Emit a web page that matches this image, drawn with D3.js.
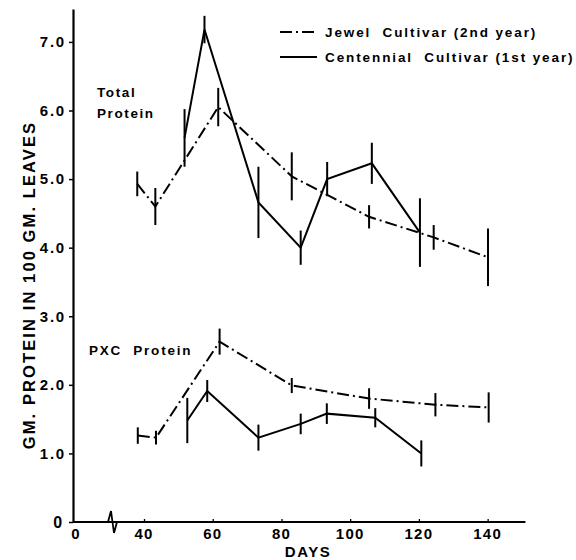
<!DOCTYPE html>
<html><head><meta charset="utf-8">
<script src="https://cdn.jsdelivr.net/npm/d3@7"></script>
<style>
body{margin:0;background:#fff;}
text{font-family:"Liberation Sans",Arial,sans-serif;font-weight:bold;fill:#000;}
</style></head>
<body>
<svg id="chart" width="576" height="560"></svg>
<script>
// ---- data ----
const jewelTotalDays = [36.2, 43.3, 61.6, 83, 105.5, 124.3, 140.1];
const jewelTotalVals = [4.93, 4.6, 6.05, 5.04, 4.45, 4.15, 3.86];
const jewelTotalErr  = [0.18, 0.27, 0.28, 0.35, 0.17, 0.18, 0.42];

const centTotalDays = [51.8, 57.6, 73.3, 85.6, 93.3, 106.3, 120.3];
const centTotalVals = [5.6, 7.18, 4.66, 4.0, 5.0, 5.23, 4.22];
const centTotalErr  = [0.42, 0.2, 0.52, 0.25, 0.25, 0.3, 0.5];

const jewelPxcDays = [36.5, 43.5, 62, 83, 105.5, 124.8, 140.3];
const jewelPxcVals = [1.26, 1.23, 2.63, 1.99, 1.8, 1.71, 1.67];
const jewelPxcErr  = [0.12, 0.1, 0.19, 0.11, 0.15, 0.17, 0.22];

const centPxcDays = [52.6, 58.4, 73.3, 85.6, 93.2, 107.3, 120.7];
const centPxcVals = [1.48, 1.91, 1.23, 1.43, 1.58, 1.52, 1.0];
const centPxcErr  = [0.33, 0.16, 0.19, 0.15, 0.15, 0.14, 0.19];

const xTicks = [0, 40, 60, 80, 100, 120, 140];
const xTickLabels = ["0", "40", "60", "80", "100", "120", "140"];
const yTicks = [0, 1, 2, 3, 4, 5, 6, 7];
const yTickLabels = ["0", "1.0", "2.0", "3.0", "4.0", "5.0", "6.0", "7.0"];

const legendLabels = ["Jewel  Cultivar (2nd year)", "Centennial  Cultivar (1st year)"];

// ---- layout ----
const svg = d3.select("#chart");
const x = d3.scaleLinear().domain([0, 40, 150]).range([73, 144, 522]);
const y = d3.scaleLinear().domain([0, 7.48]).range([522, 9]);
const DASH = "12,4,2,4";

// axes
const gx = svg.append("g").attr("transform", `translate(0,${y(0)})`)
  .call(d3.axisBottom(x).tickValues(xTicks.slice(1)).tickFormat(() => "").tickSize(-3).tickSizeOuter(0));
gx.select(".domain").attr("stroke-width", 2.2).attr("d", `M${x(0)},0H${x(151)}`);
gx.selectAll(".tick line").attr("stroke-width", 1.3);

// x tick labels
svg.append("g").selectAll("text").data(xTicks).join("text")
  .attr("x", (d, i) => i === 0 ? x(d) + 3 : x(d))
  .attr("y", y(0) + 17)
  .attr("text-anchor", "middle")
  .attr("font-size", 15)
  .attr("letter-spacing", 1.2)
  .text((d, i) => xTickLabels[i]);

const gy = svg.append("g").attr("transform", `translate(${x(0)},0)`)
  .call(d3.axisLeft(y).tickValues(yTicks).tickFormat((d, i) => yTickLabels[i]).tickSize(4).tickSizeOuter(0).tickPadding(3));
gy.select(".domain").attr("stroke-width", 2.2);
gy.selectAll(".tick line").attr("stroke-width", 1.5);
gy.selectAll(".tick text").attr("font-size", 15).attr("letter-spacing", 1.8)
  .style("font-family", '"Liberation Sans",Arial,sans-serif').style("font-weight", "bold");
gy.selectAll(".tick").filter(d => d === 0).select("text").attr("dx", -2).attr("font-size", 16);

// axis break
svg.append("path")
  .attr("d", `M${x(0) + 35},${y(0)} L${x(0) + 38},${y(0) - 11} L${x(0) + 41},${y(0) + 11} L${x(0) + 44},${y(0)}`)
  .attr("fill", "none").attr("stroke", "#000").attr("stroke-width", 1.8);

// axis titles
svg.append("text")
  .attr("transform", `translate(35,${285}) rotate(-90)`)
  .attr("text-anchor", "middle").attr("font-size", 16.5).attr("letter-spacing", 2.1)
  .text("GM. PROTEIN IN 100 GM. LEAVES");
svg.append("text").attr("x", 308).attr("y", 557).attr("text-anchor", "middle")
  .attr("font-size", 15).attr("letter-spacing", 1.5).text("DAYS");

// series
function series(days, vals, errs, dashed) {
  const pts = days.map((d, i) => ({d, v: vals[i], e: errs[i]}));
  const line = d3.line().x(p => x(p.d)).y(p => y(p.v));
  svg.append("path").datum(pts).attr("d", line)
    .attr("fill", "none").attr("stroke", "#000").attr("stroke-width", 2)
    .attr("stroke-dasharray", dashed ? DASH : null).attr("stroke-linejoin", "miter");
  svg.append("g").selectAll("line").data(pts).join("line")
    .attr("x1", p => x(p.d)).attr("x2", p => x(p.d))
    .attr("y1", p => y(p.v - p.e)).attr("y2", p => y(p.v + p.e))
    .attr("stroke", "#000").attr("stroke-width", 2);
}
series(jewelTotalDays, jewelTotalVals, jewelTotalErr, true);
series(centTotalDays, centTotalVals, centTotalErr, false);
series(jewelPxcDays, jewelPxcVals, jewelPxcErr, true);
series(centPxcDays, centPxcVals, centPxcErr, false);

// annotations
svg.append("text").attr("x", 97).attr("y", 97).attr("font-size", 13.5).attr("letter-spacing", 1.6).text("Total");
svg.append("text").attr("x", 97).attr("y", 118).attr("font-size", 13.5).attr("letter-spacing", 1.6).text("Protein");
svg.append("text").attr("x", 89).attr("y", 355).attr("font-size", 13.5).attr("letter-spacing", 1.8).attr("xml:space", "preserve").text("PXC  Protein");

// legend
const leg = svg.append("g");
legendLabels.forEach((t, i) => {
  const ly = 32 + i * 25;
  leg.append("line").attr("x1", 280).attr("x2", 317).attr("y1", ly).attr("y2", ly)
    .attr("stroke", "#000").attr("stroke-width", 2).attr("stroke-dasharray", i === 0 ? DASH : null);
  leg.append("text").attr("x", 325).attr("y", ly + 5).attr("font-size", 13.5).attr("letter-spacing", 1.9)
    .attr("xml:space", "preserve").text(t);
});
</script>
</body></html>
